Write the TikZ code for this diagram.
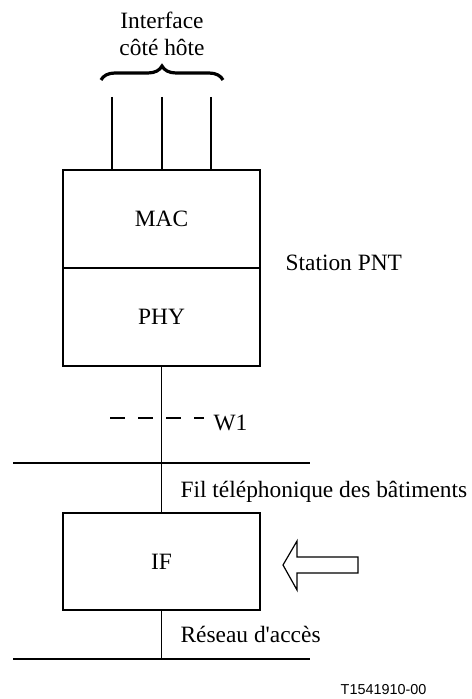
\documentclass[tikz,border=0pt]{standalone}
\usepackage{fontspec}
\setmainfont{Liberation Serif}
\newfontfamily\labelsans{Liberation Sans}
\usetikzlibrary{positioning,calc,decorations.pathreplacing}

\begin{document}
\begin{tikzpicture}[x=0.5pt, y=-0.5pt, line width=0.6pt,
    every node/.style={font=\fontsize{11.7}{13.5}\selectfont, inner sep=0pt},
    layerbox/.style={draw, outer sep=0pt, minimum width=98.5pt, minimum height=49pt},
    caption/.style={anchor=west}]
  \useasboundingbox (0,0) rectangle (471,699);

  % Station PNT: MAC over PHY
  \node[layerbox] (mac) at (161.5, 219) {MAC};
  \node[layerbox, below=0pt of mac] (phy) {PHY};
  \node[caption] (station) at (285, 263) {Station PNT};

  % host-side interface lines and brace
  \foreach \i/\x in {1/112, 2/162, 3/211} {
    \coordinate (host\i) at (\x, 97);
    \draw (host\i) -- (host\i |- mac.north);
  }
  \coordinate (braceL) at (101, 80);
  \coordinate (braceR) at (223, 80);
  \draw[decorate, decoration={brace, amplitude=7pt}, line width=1.6pt] (braceL) -- (braceR);
  \node[align=center] (host) at (162, 34) {Interface\\c\^ot\'e h\^ote};

  % IF box and arrow
  \node[layerbox, minimum height=48.5pt] (ifbox) at (161.5, 561.5) {IF};
  \draw (283, 565) -- (297, 541) -- (297, 557) -- (358, 557) -- (358, 573)
        -- (297, 573) -- (297, 590) -- cycle;

  % wiring
  \draw (phy.south) -- (ifbox.north);
  \coordinate (w1a) at (110, 418);
  \coordinate (w1b) at (204, 418);
  \draw[dash pattern=on 7.5pt off 6.5pt] (w1a) -- (w1b);
  \node[caption] (w1) at (213, 423) {W1};

  \coordinate (houseL) at (13, 463);
  \coordinate (houseR) at (310, 463);
  \draw (houseL) -- (houseR);
  \node[caption] (fil) at (180, 492) {Fil t\'el\'ephonique des b\^atiments};

  \coordinate (netL) at (13, 659);
  \coordinate (netR) at (310, 659);
  \draw (netL) -- (netR);
  \draw (ifbox.south) -- (ifbox.south |- netL);
  \node[caption] (net) at (180, 634) {R\'eseau d\textquotesingle acc\`es};

  \node[anchor=east, font=\labelsans\fontsize{7.2}{8}\selectfont] (ref) at (427, 690) {T1541910-00};
\end{tikzpicture}
\end{document}
